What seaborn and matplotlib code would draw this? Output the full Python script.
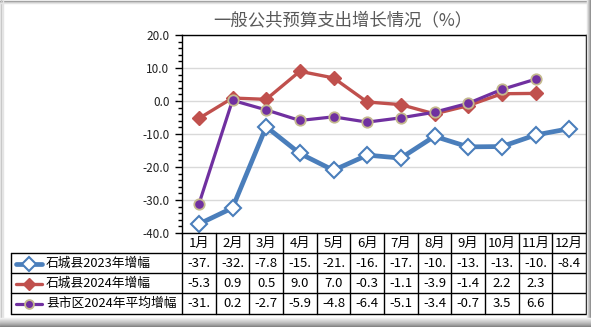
import numpy as np
import pandas as pd
import matplotlib
matplotlib.use("Agg")
import matplotlib.pyplot as plt
import seaborn as sns
from matplotlib.lines import Line2D
from matplotlib.transforms import blended_transform_factory

# ---------------- data ----------------
months = ['1月', '2月', '3月', '4月', '5月', '6月', '7月', '8月', '9月', '10月', '11月', '12月']
series_names = ['石城县2023年增幅', '石城县2024年增幅', '县市区2024年平均增幅']
sc2023 = [-37.3, -32.4, -7.8, -15.9, -21.0, -16.4, -17.3, -10.7, -13.9, -13.8, -10.3, -8.4]
sc2024 = [-5.3, 0.9, 0.5, 9.0, 7.0, -0.3, -1.1, -3.9, -1.4, 2.2, 2.3, np.nan]
county2024 = [-31.3, 0.2, -2.7, -5.9, -4.8, -6.4, -5.1, -3.4, -0.7, 3.5, 6.6, np.nan]
title = '一般公共预算支出增长情况（%）'
yticks = [-40, -30, -20, -10, 0, 10, 20]

# ---------------- style ----------------
sns.set_style("white")
plt.rcParams['font.family'] = ['Noto Sans CJK SC', 'DejaVu Sans']
plt.rcParams['axes.unicode_minus'] = False

W, H = 591, 327
def fx(x): return x / W
def fy(y): return 1 - y / H

fig = plt.figure(figsize=(W / 100, H / 100), dpi=100)
fig.patch.set_facecolor('white')

L, R, T, B = 182, 586, 35, 233
ax = fig.add_axes([fx(L), fy(B), fx(R) - fx(L), (B - T) / H])

colors = ['#4A7EBB', '#C0504D', '#7030A0']
styles = [
    dict(marker='D', markersize=8, markerfacecolor='white', markeredgecolor='#4A7EBB',
         markeredgewidth=1.5, linewidth=3.4),
    dict(marker='D', markersize=7, markerfacecolor='#C0504D', markeredgecolor='#C0504D',
         markeredgewidth=1, linewidth=2.4),
    dict(marker='o', markersize=7.5, markerfacecolor='#7030A0', markeredgecolor='#C4B98E',
         markeredgewidth=1.3, linewidth=2.3),
]
values = [sc2023, sc2024, county2024]

x = np.arange(len(months))
for name, vals, c, st in zip(series_names, values, colors, styles):
    df = pd.DataFrame({'x': x, 'y': vals}).dropna()
    sns.lineplot(data=df, x='x', y='y', ax=ax, color=c, sort=False, legend=False, **st)

ax.set_xlim(-0.5, len(months) - 0.5)
ax.set_ylim(-40, 20)
ax.set_yticks(yticks)
ax.set_yticks(np.arange(-40, 21, 2), minor=True)
ax.set_yticklabels([f'{v:.1f}' for v in yticks], fontsize=8.5, color='#222222')
ax.tick_params(axis='y', which='major', length=5, width=1, color='black', direction='out', pad=4, left=True)
ax.tick_params(axis='y', which='minor', length=3, width=1, color='black', direction='out', left=True)
ax.set_xticks([])
ax.set_xlabel('')
ax.set_ylabel('')
ax.grid(axis='y', which='major', color='#D9D9D9', linewidth=1)
ax.set_axisbelow(True)
for s in ax.spines.values():
    s.set_color('black')
    s.set_linewidth(1)

fig.text(fx(343), fy(20), title, ha='center', va='center', fontsize=12.5, color='#595959')

# ---------------- data table ----------------
bt = blended_transform_factory(ax.transData, fig.transFigure)
row_tops = [233, 253, 273, 293, 314]
lc = 'black'
for yy in row_tops[1:]:
    fig.add_artist(Line2D([fx(11), fx(R)], [fy(yy), fy(yy)], color=lc, lw=1, transform=fig.transFigure))
fig.add_artist(Line2D([fx(11), fx(11)], [fy(253), fy(314)], color=lc, lw=1, transform=fig.transFigure))
for i in range(len(months) + 1):
    xb = i - 0.5
    fig.add_artist(Line2D([xb, xb], [fy(233), fy(314)], color=lc, lw=1, transform=bt))

for i, m in enumerate(months):
    fig.text(i, fy(243.5), m, transform=bt, ha='center', va='center', fontsize=9.5, color='black')

def cell(v):
    if v is None or (isinstance(v, float) and np.isnan(v)):
        return ''
    return f'{v:.1f}'[:4]

row_centers = [263.5, 283.5, 303.5]
for r, (name, vals, c, st) in enumerate(zip(series_names, values, colors, styles)):
    yc = fy(row_centers[r])
    fig.add_artist(Line2D([fx(16), fx(42)], [yc, yc], color=c, lw=st['linewidth'],
                          transform=fig.transFigure))
    fig.add_artist(Line2D([fx(29)], [yc], color=c, lw=0, marker=st['marker'],
                          markersize=st['markersize'] * 0.85,
                          markerfacecolor=st['markerfacecolor'],
                          markeredgecolor=st['markeredgecolor'],
                          markeredgewidth=st['markeredgewidth'],
                          transform=fig.transFigure))
    fig.text(fx(46), yc, name, ha='left', va='center', fontsize=9.2, color='black')
    for i, v in enumerate(vals):
        fig.text(i, yc, cell(v), transform=bt, ha='center', va='center', fontsize=9.5, color='black')

# ---------------- chart frame ----------------
grays_lt = ['#9A9A9A', '#C8C8C8', '#E4E4E4']
for k, g in enumerate(grays_lt):
    fig.add_artist(Line2D([fx(k + 0.5), fx(k + 0.5)], [fy(0), fy(H)], color=g, lw=1, transform=fig.transFigure))
    fig.add_artist(Line2D([fx(0), fx(W)], [fy(k + 0.5), fy(k + 0.5)], color=g, lw=1, transform=fig.transFigure))
rs = ['#E8E8E8', '#D0D0D0', '#B8B8B8', '#9C9C9C', '#7A7A7A']
for k, g in enumerate(rs):
    xx = 586.5 + k
    fig.add_artist(Line2D([fx(xx), fx(xx)], [fy(0), fy(H)], color=g, lw=1.05, transform=fig.transFigure))
bs = ['#F2F2F2', '#E6E6E6', '#DADADA', '#CFCFCF', '#C4C4C4', '#B8B8B8', '#ABABAB', '#9C9C9C', '#8A8A8A', '#767676']
for k, g in enumerate(bs):
    yy = 317.5 + k
    fig.add_artist(Line2D([fx(0), fx(W)], [fy(yy), fy(yy)], color=g, lw=1.05, transform=fig.transFigure))

fig.savefig('out.png', dpi=100, facecolor='white')
